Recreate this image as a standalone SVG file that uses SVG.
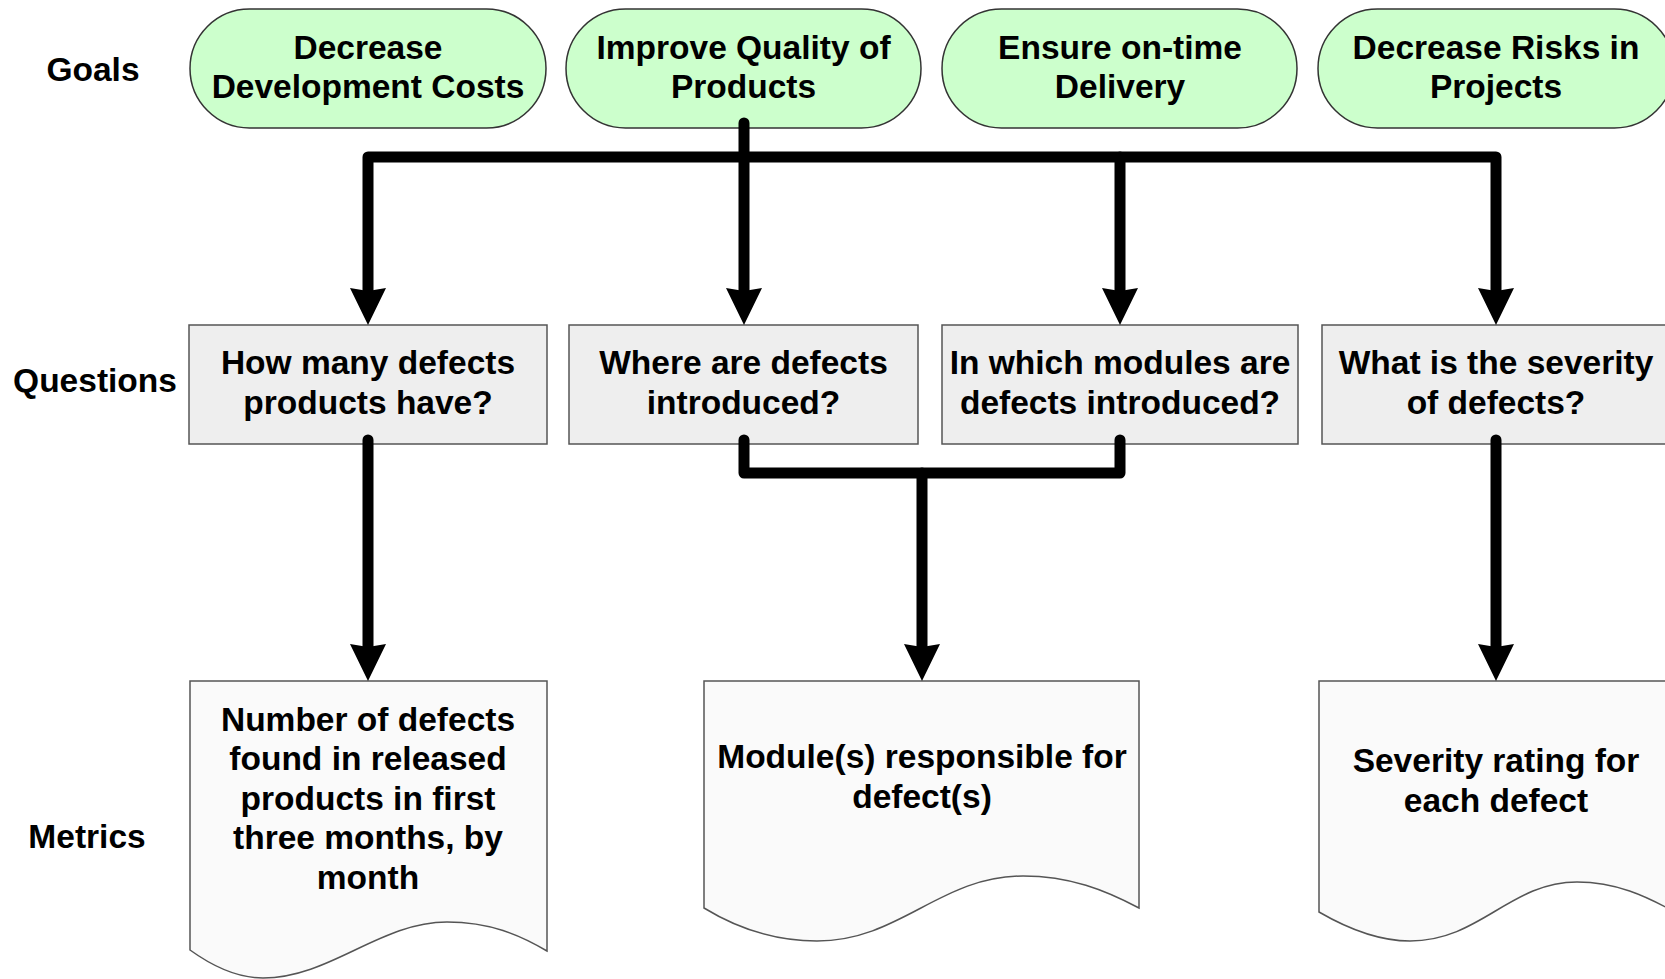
<svg xmlns="http://www.w3.org/2000/svg" width="1665" height="979" viewBox="0 0 1665 979">
  <defs>
    <style>
      text { font-family: "Liberation Sans", Arial, sans-serif; font-weight: bold; font-size: 33.5px; fill: #000; text-anchor: middle; }
      .goal { fill: #ccffcc; stroke: #333; stroke-width: 1.5; }
      .question { fill: #eeeeee; stroke: #555; stroke-width: 1.5; }
      .metric { fill: #fafafa; stroke: #555; stroke-width: 1.5; }
      .conn { fill: none; stroke: #000; stroke-width: 11; stroke-linecap: round; stroke-linejoin: round; }
    </style>
    <marker id="arrow" markerUnits="userSpaceOnUse" viewBox="0 0 37 36" markerWidth="37" markerHeight="36" refX="3" refY="18" orient="auto-start-reverse">
      <path d="M0,0 L37,18 L0,36 L3,18 Z" fill="#000"/>
    </marker>
  </defs>

  <!-- row labels -->
  <g id="row-labels">
    <text x="93" y="81">Goals</text>
    <text x="95" y="392">Questions</text>
    <text x="87" y="848">Metrics</text>
  </g>

  <!-- goals -->
  <g id="goal-costs">
    <rect class="goal" x="190" y="9" width="356" height="119" rx="59.5"/>
    <text x="368" y="59">Decrease</text>
    <text x="368" y="98">Development Costs</text>
  </g>
  <g id="goal-quality">
    <rect class="goal" x="566" y="9" width="355" height="119" rx="59.5"/>
    <text x="743.5" y="59">Improve Quality of</text>
    <text x="743.5" y="98">Products</text>
  </g>
  <g id="goal-delivery">
    <rect class="goal" x="942" y="9" width="355" height="119" rx="59.5"/>
    <text x="1120" y="59">Ensure on-time</text>
    <text x="1120" y="98">Delivery</text>
  </g>
  <g id="goal-risks">
    <rect class="goal" x="1318" y="9" width="356" height="119" rx="59.5"/>
    <text x="1496" y="59">Decrease Risks in</text>
    <text x="1496" y="98">Projects</text>
  </g>

  <!-- questions -->
  <g id="q-how-many">
    <rect class="question" x="189" y="325" width="358" height="119"/>
    <text x="368" y="374">How many defects</text>
    <text x="368" y="414">products have?</text>
  </g>
  <g id="q-where">
    <rect class="question" x="569" y="325" width="349" height="119"/>
    <text x="743.5" y="374">Where are defects</text>
    <text x="743.5" y="414">introduced?</text>
  </g>
  <g id="q-modules">
    <rect class="question" x="942" y="325" width="356" height="119"/>
    <text x="1120" y="374">In which modules are</text>
    <text x="1120" y="414">defects introduced?</text>
  </g>
  <g id="q-severity">
    <rect class="question" x="1322" y="325" width="356" height="119"/>
    <text x="1496" y="374">What is the severity</text>
    <text x="1496" y="414">of defects?</text>
  </g>

  <!-- metrics (document shapes) -->
  <g id="m-defect-count">
    <path class="metric" d="M190,681 H547 V951 C520,935 490,922 447,922 C380,922 330,978 263,978 C240,978 215,968 190,950 Z"/>
    <text x="368" y="731">Number of defects</text>
    <text x="368" y="770">found in released</text>
    <text x="368" y="809.5">products in first</text>
    <text x="368" y="849">three months, by</text>
    <text x="368" y="888.5">month</text>
  </g>
  <g id="m-modules">
    <path class="metric" d="M704,681 H1139 V908 C1105,890 1070,876 1023,876 C940,876 900,941 817,941 C780,941 740,930 704,908 Z"/>
    <text x="922" y="768">Module(s) responsible for</text>
    <text x="922" y="807.5">defect(s)</text>
  </g>
  <g id="m-severity">
    <path class="metric" d="M1319,681 H1680 V915 C1645,895 1615,882 1577,882 C1510,882 1480,941 1410,941 C1380,941 1350,930 1319,912 Z"/>
    <text x="1496" y="772">Severity rating for</text>
    <text x="1496" y="811.5">each defect</text>
  </g>

  <!-- connectors -->
  <g id="connectors">
    <path class="conn" d="M744,123 V291" marker-end="url(#arrow)"/>
    <path class="conn" d="M368,291 V157 H1496 V291" marker-start="url(#arrow)" marker-end="url(#arrow)"/>
    <path class="conn" d="M1120,157 V291" marker-end="url(#arrow)"/>
    <path class="conn" d="M368,440 V647" marker-end="url(#arrow)"/>
    <path class="conn" d="M744,440 V473 H1120 V440"/>
    <path class="conn" d="M922,473 V647" marker-end="url(#arrow)"/>
    <path class="conn" d="M1496,440 V647" marker-end="url(#arrow)"/>
  </g>
</svg>
